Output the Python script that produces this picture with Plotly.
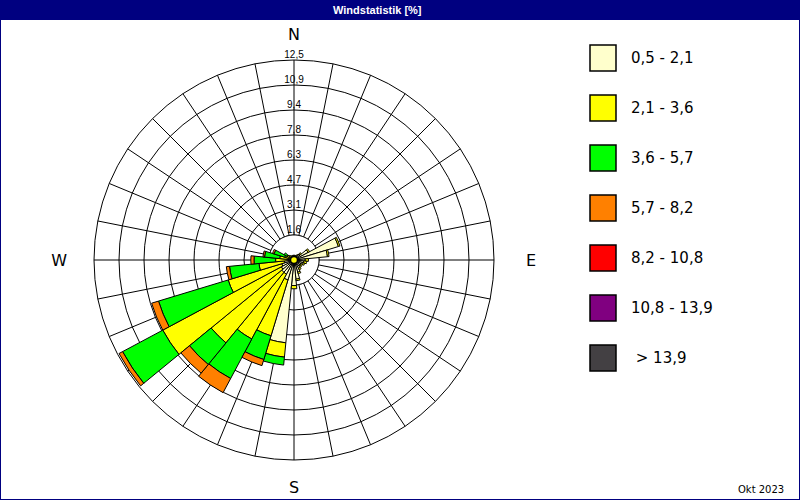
import plotly.graph_objects as go

# ---- data -------------------------------------------------------------
directions = [0, 11.25, 22.5, 33.75, 45, 56.25, 67.5, 78.75,
              90, 101.25, 112.5, 123.75, 135, 146.25, 157.5, 168.75,
              180, 191.25, 202.5, 213.75, 225, 236.25, 247.5, 258.75,
              270, 281.25, 292.5, 303.75, 315, 326.25, 337.5, 348.75]
compass_labels = {0: "N", 90: "\u00a0\u00a0\u00a0E", 180: "S", 270: "W\u00a0\u00a0"}

# frequency [%] per speed class (stacked)
s_05_21 = [0.2, 0.2, 0.2, 0.3, 0.5, 1.0, 2.9, 2.1,
           0.7, 0.6, 0.6, 0.5, 0.5, 0.6, 0.8, 1.2,
           1.6, 5.2, 1.3, 1.0, 1.0, 0.9, 0.8, 0.6,
           0.4, 0.3, 0.3, 0.3, 0.2, 0.2, 0.2, 0.2]
s_21_36 = [0.1, 0.1, 0.1, 0.1, 0.1, 0.1, 0.1, 0.1,
           0.2, 0.2, 0.1, 0.1, 0.1, 0.1, 0.1, 0.1,
           0.2, 0.9, 3.65, 4.6, 5.7, 8.4, 3.5, 1.6,
           0.75, 0.6, 0.3, 0.2, 0.2, 0.1, 0.1, 0.1]
s_36_57 = [0, 0, 0, 0, 0, 0, 0, 0,
           0, 0, 0, 0, 0, 0, 0, 0,
           0, 0.5, 1.55, 2.8, 1.75, 2.85, 4.55, 1.85,
           1.35, 0.95, 0.7, 0.2, 0, 0, 0, 0]
s_57_82 = [0, 0, 0, 0, 0, 0, 0, 0,
           0, 0, 0, 0, 0, 0, 0, 0,
           0, 0, 0.4, 1.0, 0.7, 0.25, 0.45, 0.2,
           0.2, 0.1, 0.1, 0, 0, 0, 0, 0]
s_82_108 = [0] * 32
s_108_139 = [0] * 32
s_139 = [0] * 32

class_labels = ["0,5 - 2,1", "2,1 - 3,6", "3,6 - 5,7", "5,7 - 8,2",
                "8,2 - 10,8", "10,8 - 13,9", "\u00a0> 13,9"]
class_colors = ["#FFFFCC", "#FFFF00", "#00FF00", "#FF8000",
                "#FF0000", "#800080", "#434043"]
series = [s_05_21, s_21_36, s_36_57, s_57_82, s_82_108, s_108_139, s_139]

radial_ticks = [1.5625, 3.125, 4.6875, 6.25, 7.8125, 9.375, 10.9375, 12.5]
radial_labels = ["1,6", "3,1", "4,7", "6,3", "7,8", "9,4", "10,9", "12,5"]
calm_r = [0]

title_text = "Windstatistik [%]"
date_text = "Okt 2023"

# ---- figure -----------------------------------------------------------
W, H = 800, 500
fig = go.Figure()

# bottom subplot: grid + white inner disk (spokes start at the first ring)
ring_theta = [i for i in range(0, 361, 2)]
fig.add_trace(go.Scatterpolar(
    r=[radial_ticks[0]] * len(ring_theta), theta=ring_theta, subplot="polar",
    mode="lines", fill="toself", fillcolor="white",
    line=dict(color="black", width=1), hoverinfo="skip", showlegend=False))

# radial value labels along the north spoke
fig.add_trace(go.Scatterpolar(
    r=radial_ticks, theta=[0] * len(radial_ticks), mode="text", subplot="polar",
    text=radial_labels, textposition="top center",
    textfont=dict(family="Liberation Sans", size=10, color="black"),
    hoverinfo="skip", showlegend=False))

# top subplot: stacked bars
for vals, name, col in zip(series, class_labels, class_colors):
    if not any(vals):
        continue
    fig.add_trace(go.Barpolar(
        r=vals, theta=directions, width=[11.25] * len(directions),
        subplot="polar2", name=name,
        marker=dict(color=col, line=dict(color="black", width=1)),
        showlegend=False))

# calm marker in the centre
fig.add_trace(go.Scatterpolar(
    r=calm_r, theta=[0], mode="markers", subplot="polar2",
    marker=dict(color="#FFFF00", size=7, line=dict(color="black", width=1.5)),
    hoverinfo="skip", showlegend=False))

cx, cy, R = 294, 260, 200
dom = dict(x=[(cx - R) / W, (cx + R) / W], y=[(H - cy - R) / H, (H - cy + R) / H])
fig.update_layout(
    width=W, height=H,
    margin=dict(l=0, r=0, t=0, b=0),
    paper_bgcolor="white",
    showlegend=False,
    polar=dict(
        domain=dom,
        bgcolor="white",
        radialaxis=dict(range=[0, 12.5], tickvals=radial_ticks,
                        showticklabels=False, ticks="",
                        showline=False, gridcolor="black", gridwidth=1,
                        layer="below traces"),
        angularaxis=dict(rotation=90, direction="clockwise",
                         tickvals=directions,
                         ticktext=[compass_labels.get(d, "") for d in directions],
                         tickfont=dict(family="DejaVu Sans", size=16, color="black"),
                         ticks="outside", ticklen=13,
                         tickcolor="rgba(0,0,0,0)",
                         showline=True, linecolor="black", linewidth=1,
                         gridcolor="black", gridwidth=1,
                         layer="below traces"),
    ),
    polar2=dict(
        domain=dom,
        bgcolor="rgba(0,0,0,0)",
        barmode="stack",
        radialaxis=dict(range=[0, 12.5], visible=False),
        angularaxis=dict(rotation=90, direction="clockwise", visible=False),
    ),
)

shapes = [
    dict(type="rect", xref="paper", yref="paper", x0=0, x1=1,
         y0=1 - 20 / H, y1=1, fillcolor="#000080", line=dict(width=0)),
    dict(type="rect", xref="paper", yref="paper", x0=0, x1=1, y0=0, y1=1,
         line=dict(color="#000080", width=2), fillcolor="rgba(0,0,0,0)"),
]
annotations = [
    dict(text="<b>" + title_text + "</b>", x=377 / W, y=1 - 10 / H,
         xref="paper", yref="paper", showarrow=False,
         font=dict(family="Liberation Sans", size=11, color="white"),
         xanchor="center", yanchor="middle"),
    dict(text=date_text, x=786 / W, y=1 - 489 / H, xref="paper", yref="paper",
         showarrow=False, font=dict(family="DejaVu Sans", size=10, color="black"),
         xanchor="right", yanchor="middle"),
]
for i, (lab, col) in enumerate(zip(class_labels, class_colors)):
    top = 45 + 50 * i
    shapes.append(dict(type="rect", xref="paper", yref="paper",
                       x0=590 / W, x1=616 / W, y0=1 - (top + 26) / H, y1=1 - top / H,
                       fillcolor=col, line=dict(color="black", width=1.5)))
    annotations.append(dict(text=lab, x=629 / W, y=1 - (top + 13) / H,
                            xref="paper", yref="paper", showarrow=False,
                            xanchor="left", yanchor="middle",
                            font=dict(family="DejaVu Sans", size=15, color="black")))
fig.update_layout(shapes=shapes, annotations=annotations)

fig.write_html("out.html", config={"displayModeBar": False},
               post_script="document.body.style.margin='0';"
                           "document.body.style.overflow='hidden';")
